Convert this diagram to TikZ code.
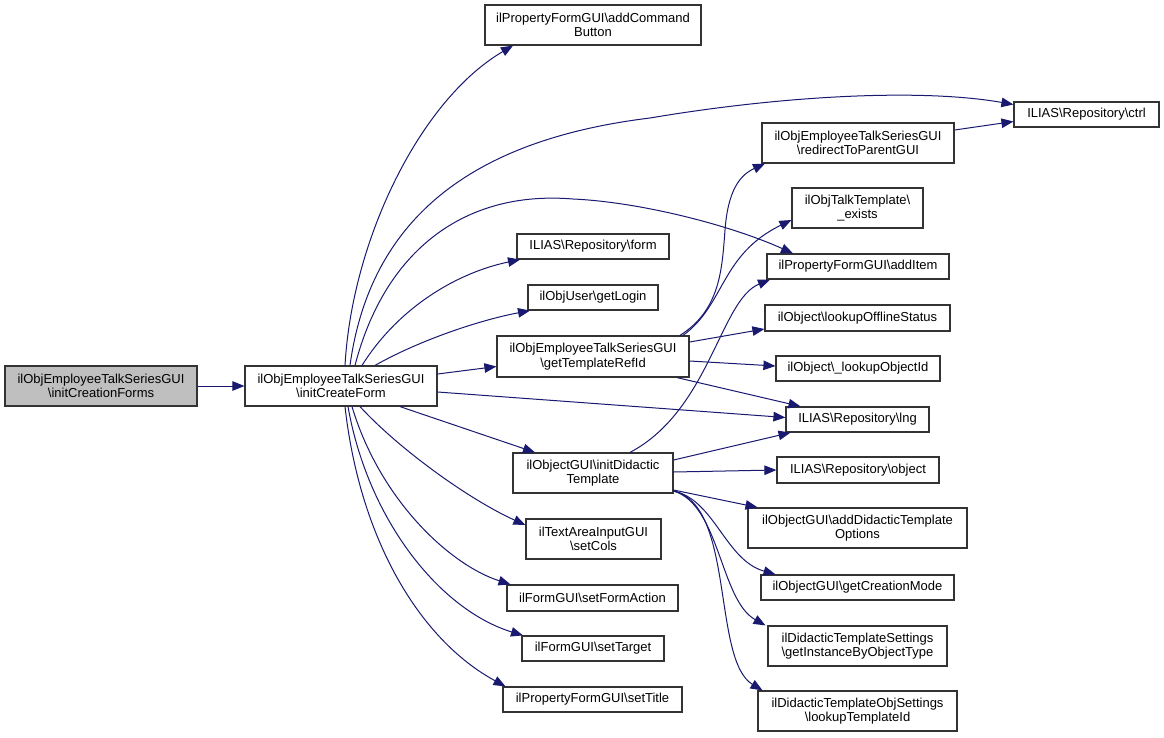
\documentclass[tikz,border=0pt]{standalone}
\usepackage{fontspec}
\setmainfont{Liberation Sans}
\usetikzlibrary{arrows.meta}
\definecolor{edgecol}{HTML}{191970}
\definecolor{rootfill}{HTML}{BFBFBF}
\definecolor{boxline}{HTML}{333333}
\begin{document}
\begin{tikzpicture}[x=1pt,y=-1pt,
  box/.style={draw=boxline,line width=1.2pt,fill=white,inner sep=0pt,align=center,
    font=\fontsize{13}{14.5}\selectfont},
  edge/.style={draw=edgecol,line width=1pt,-{Triangle[length=12pt,width=9.5pt]}}]
\useasboundingbox (0,0) rectangle (1164,737);
\fill[white] (0,0) rectangle (1164,737);
\newcommand{\bs}{\textbackslash}
% nodes
\node[box,fill=rootfill,minimum width=192,minimum height=40] (root) at (101,386) {ilObjEmployeeTalkSeriesGUI\\\bs initCreationForms};
\node[box,minimum width=192,minimum height=40] (icf) at (341,386) {ilObjEmployeeTalkSeriesGUI\\\bs initCreateForm};
\node[box,minimum width=216,minimum height=40] (acb) at (593,25) {ilPropertyFormGUI\bs addCommand\\Button};
\node[box,minimum width=145,minimum height=25] (ctrl) at (1086.5,114.5) {ILIAS\bs Repository\bs ctrl};
\node[box,minimum width=192,minimum height=40] (rtp) at (858,143) {ilObjEmployeeTalkSeriesGUI\\\bs redirectToParentGUI};
\node[box,minimum width=131,minimum height=40] (exists) at (857.5,208) {ilObjTalkTemplate\bs\\\_exists};
\node[box,minimum width=182,minimum height=25] (additem) at (858,266.5) {ilPropertyFormGUI\bs addItem};
\node[box,minimum width=152,minimum height=25] (form) at (593,246.5) {ILIAS\bs Repository\bs form};
\node[box,minimum width=130,minimum height=25] (getlogin) at (593,297.5) {ilObjUser\bs getLogin};
\node[box,minimum width=192,minimum height=41] (gtr) at (593,356.5) {ilObjEmployeeTalkSeriesGUI\\\bs getTemplateRefId};
\node[box,minimum width=160,minimum height=40] (idt) at (593,473) {ilObjectGUI\bs initDidactic\\Template};
\node[box,minimum width=185,minimum height=26] (offline) at (857.5,318) {ilObject\bs lookupOfflineStatus};
\node[box,minimum width=164,minimum height=25] (lookupid) at (858,368.5) {ilObject\bs \_lookupObjectId};
\node[box,minimum width=143,minimum height=25] (lng) at (857.5,419.5) {ILIAS\bs Repository\bs lng};
\node[box,minimum width=162,minimum height=26] (object) at (858,470) {ILIAS\bs Repository\bs object};
\node[box,minimum width=219,minimum height=40] (adto) at (857.5,528) {ilObjectGUI\bs addDidacticTemplate\\Options};
\node[box,minimum width=193,minimum height=25] (gcm) at (857.5,587.5) {ilObjectGUI\bs getCreationMode};
\node[box,minimum width=179,minimum height=40] (gibot) at (857.5,646) {ilDidacticTemplateSettings\\\bs getInstanceByObjectType};
\node[box,minimum width=199,minimum height=40] (lti) at (857.5,711) {ilDidacticTemplateObjSettings\\\bs lookupTemplateId};
\node[box,minimum width=135,minimum height=40] (setcols) at (593.5,539) {ilTextAreaInputGUI\\\bs setCols};
\node[box,minimum width=171,minimum height=26] (sfa) at (592.5,598) {ilFormGUI\bs setFormAction};
\node[box,minimum width=142,minimum height=25] (settarget) at (593,648.5) {ilFormGUI\bs setTarget};
\node[box,minimum width=179,minimum height=25] (settitle) at (592.5,699.5) {ilPropertyFormGUI\bs setTitle};
% edges
\draw[edge] (root) -- (icf);
\draw[edge] ([xshift=4]icf.north) .. controls (352,240) and (420,100) .. ([xshift=-80]acb.south);
\draw[edge] ([xshift=9]icf.north) .. controls (370,220) and (470,140) .. (650,118) .. controls (780,96) and (920,88) .. ([yshift=10]ctrl.west);
\draw[edge] ([xshift=14]icf.north) .. controls (385,250) and (465,190) .. (573,199) .. controls (640,202) and (730,225) .. ([xshift=-65]additem.north);
\draw[edge] ([xshift=21]icf.north) .. controls (400,305) and (460,272) .. ([xshift=-73]form.south);
\draw[edge] ([xshift=34]icf.north) .. controls (420,340) and (480,320) .. ([xshift=-63]getlogin.south);
\draw[edge] ([yshift=12]icf.east) -- ([yshift=-10]gtr.west);
\draw[edge] ([yshift=-6]icf.east) -- ([yshift=2]lng.west);
\draw[edge] ([xshift=59]icf.south) -- ([xshift=-58]idt.north);
\draw[edge] ([xshift=19]icf.south) .. controls (400,450) and (470,500) .. ([yshift=14]setcols.west);
\draw[edge] ([xshift=11]icf.south) .. controls (380,500) and (450,565) .. ([xshift=-82]sfa.north);
\draw[edge] ([xshift=7]icf.south) .. controls (368,520) and (440,610) .. ([xshift=-70]settarget.north);
\draw[edge] ([xshift=4]icf.south) .. controls (360,540) and (420,640) .. ([xshift=-87]settitle.north);
% getTemplateRefId
\draw[edge] ([xshift=87]gtr.north) .. controls (720,310) and (722,270) .. (725,230) .. controls (728,190) and (740,175) .. ([xshift=-93]rtp.south);
\draw[edge] ([xshift=90]gtr.north) .. controls (725,305) and (720,255) .. ([yshift=-12]exists.west);
\draw[edge] ([yshift=14.5]gtr.east) -- ([yshift=-11]offline.west);
\draw[edge] ([yshift=-4.5]gtr.east) -- ([yshift=2.5]lookupid.west);
\draw[edge] ([xshift=84]gtr.south) -- ([xshift=-57]lng.north);
\draw[edge] ([yshift=13]rtp.east) -- ([yshift=-7]ctrl.west);
% initDidacticTemplate
\draw[edge] ([xshift=37]idt.north) .. controls (710,410) and (720,300) .. ([xshift=-88]additem.south);
\draw[edge] ([yshift=13]idt.east) -- ([xshift=-67]lng.south);
\draw[edge] ([yshift=1]idt.east) -- (object.west);
\draw[edge] ([yshift=-17]idt.east) -- ([xshift=-100]adto.north);
\draw[edge] ([yshift=-18]idt.east) .. controls (715,500) and (725,560) .. ([xshift=-82]gcm.north);
\draw[edge] ([yshift=-18]idt.east) .. controls (720,505) and (720,600) .. ([xshift=-92]gibot.north);
\draw[edge] ([yshift=-18]idt.east) .. controls (735,505) and (712,660) .. ([xshift=-95]lti.north);
\end{tikzpicture}
\end{document}
